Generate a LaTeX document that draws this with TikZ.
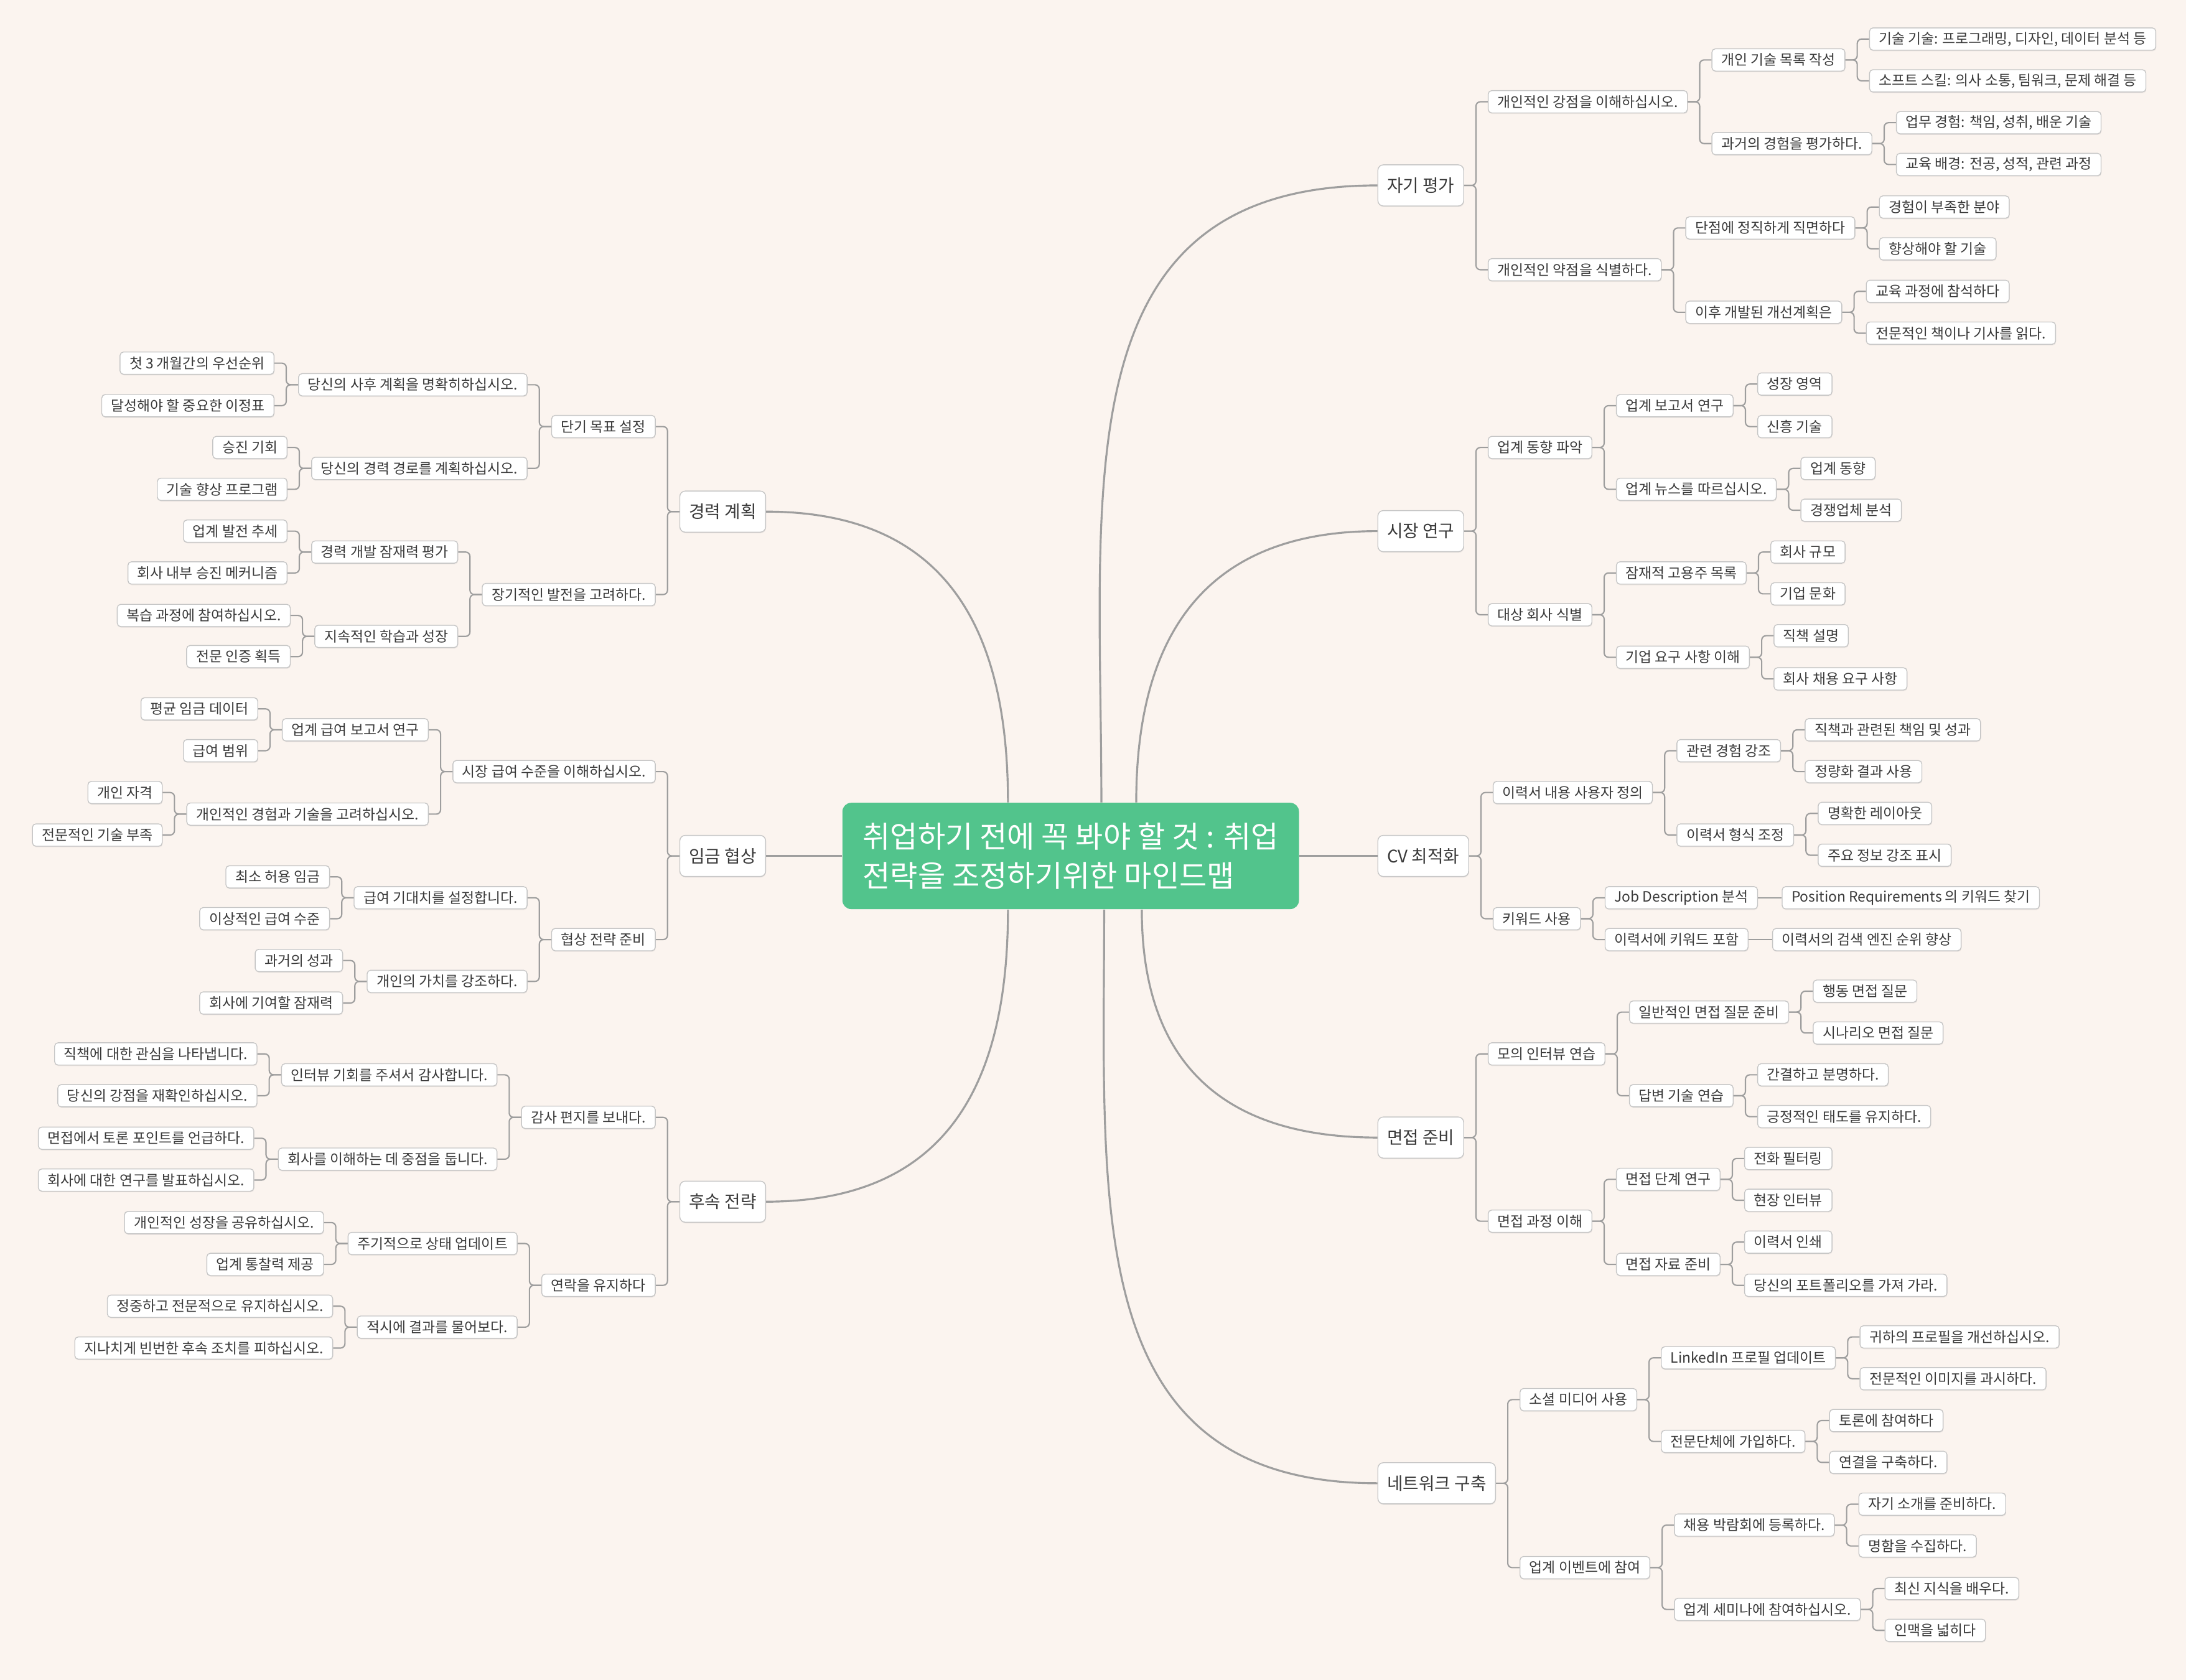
\documentclass[tikz,border=0pt]{standalone}
\usepackage{fontspec}
\setmainfont{Noto Sans CJK KR}
\usetikzlibrary{calc,shadows}

\definecolor{bgpeach}{RGB}{251,244,239}
\definecolor{hubgreen}{RGB}{82,196,140}
\definecolor{boxline}{RGB}{198,198,198}
\definecolor{linkgray}{RGB}{158,158,158}
\definecolor{inkgray}{RGB}{58,58,58}

\def\gapx{0.38cm}

\tikzset{
  box/.style={draw=boxline, fill=white, text=inkgray, line width=0.4pt,
    drop shadow={shadow xshift=0.2pt, shadow yshift=-0.5pt, opacity=0.12}},
  sub/.style={box, rounded corners=1.6pt, font=\fontsize{6.5}{7.5}\selectfont,
    inner xsep=4.3pt, inner ysep=1pt, minimum height=10.2pt},
  rsub/.style={sub, anchor=west, xshift=\gapx},
  lsub/.style={sub, anchor=east, xshift=-\gapx},
  topic/.style={box, rounded corners=2.5pt, font=\fontsize{7.9}{9.5}\selectfont,
    inner xsep=4.2pt, inner ysep=1pt, minimum height=18.8pt},
  hub/.style={fill=hubgreen, text=white, rounded corners=4pt, align=left,
    font=\fontsize{13.7}{18}\selectfont, minimum width=208.7pt,
    minimum height=48.6pt, inner xsep=3pt, inner ysep=0pt},
  link/.style={draw=linkgray, line width=0.6pt, rounded corners=2pt},
  trunk/.style={draw=linkgray, line width=0.9pt, looseness=1.2}
}

\begin{document}
\begin{tikzpicture}[x=0.0224cm, y=-0.0224cm]

  % Fondo
  \fill[bgpeach] (0,0) rectangle (1568,1205);
  \useasboundingbox (0,0) rectangle (1568,1205);

  % Tema central
  \node[hub] (hub) at (768,614) {취업하기 전에 꼭 봐야 할 것 : 취업\\전략을 조정하기위한 마인드맵};

  % Ramas principales
  \node[topic, anchor=west] (self) at (988,133) {자기 평가};
  \node[topic, anchor=west] (mkt) at (988,381) {시장 연구};
  \node[topic, anchor=west] (cv) at (988,614) {CV 최적화};
  \node[topic, anchor=west] (itv) at (988,816) {면접 준비};
  \node[topic, anchor=west] (net) at (988,1064) {네트워크 구축};
  \node[topic, anchor=east] (plan) at (549.5,367) {경력 계획};
  \node[topic, anchor=east] (wage) at (549.5,614) {임금 협상};
  \node[topic, anchor=east] (follow) at (549.5,862) {후속 전략};

  % Curvas del centro
  \draw[trunk] ($(hub.north)+(22,0)$) to[out=90, in=180] (self.west);
  \draw[trunk] ($(hub.north)+(47,0)$) to[out=90, in=180] (mkt.west);
  \draw[trunk] (hub.east) -- (cv.west);
  \draw[trunk] ($(hub.south)+(51,0)$) to[out=-90, in=180] (itv.west);
  \draw[trunk] ($(hub.south)+(24,0)$) to[out=-90, in=180] (net.west);
  \draw[trunk] ($(hub.north)+(-45,0)$) to[out=90, in=0] (plan.east);
  \draw[trunk] (hub.west) -- (wage.east);
  \draw[trunk] ($(hub.south)+(-45,0)$) to[out=-90, in=0] (follow.east);

  % 자기 평가
  \node[rsub] (self1) at (self.east |- 0,73) {개인적인 강점을 이해하십시오.};
  \node[rsub] (self11) at (self1.east |- 0,43) {개인 기술 목록 작성};
  \node[rsub] (self111) at (self11.east |- 0,28) {기술 기술: 프로그래밍, 디자인, 데이터 분석 등};
  \node[rsub] (self112) at (self11.east |- 0,58) {소프트 스킬: 의사 소통, 팀워크, 문제 해결 등};
  \node[rsub] (self12) at (self1.east |- 0,103) {과거의 경험을 평가하다.};
  \node[rsub] (self121) at (self12.east |- 0,88) {업무 경험: 책임, 성취, 배운 기술};
  \node[rsub] (self122) at (self12.east |- 0,118) {교육 배경: 전공, 성적, 관련 과정};
  \node[rsub] (self2) at (self.east |- 0,193.5) {개인적인 약점을 식별하다.};
  \node[rsub] (self21) at (self2.east |- 0,163.5) {단점에 정직하게 직면하다};
  \node[rsub] (self211) at (self21.east |- 0,148.5) {경험이 부족한 분야};
  \node[rsub] (self212) at (self21.east |- 0,178.5) {향상해야 할 기술};
  \node[rsub] (self22) at (self2.east |- 0,224) {이후 개발된 개선계획은};
  \node[rsub] (self221) at (self22.east |- 0,209) {교육 과정에 참석하다};
  \node[rsub] (self222) at (self22.east |- 0,239) {전문적인 책이나 기사를 읽다.};

  % 시장 연구
  \node[rsub] (mkt1) at (mkt.east |- 0,321) {업계 동향 파악};
  \node[rsub] (mkt11) at (mkt1.east |- 0,291) {업계 보고서 연구};
  \node[rsub] (mkt111) at (mkt11.east |- 0,275.5) {성장 영역};
  \node[rsub] (mkt112) at (mkt11.east |- 0,306) {신흥 기술};
  \node[rsub] (mkt12) at (mkt1.east |- 0,351) {업계 뉴스를 따르십시오.};
  \node[rsub] (mkt121) at (mkt12.east |- 0,336) {업계 동향};
  \node[rsub] (mkt122) at (mkt12.east |- 0,366) {경쟁업체 분석};
  \node[rsub] (mkt2) at (mkt.east |- 0,441) {대상 회사 식별};
  \node[rsub] (mkt21) at (mkt2.east |- 0,411) {잠재적 고용주 목록};
  \node[rsub] (mkt211) at (mkt21.east |- 0,396) {회사 규모};
  \node[rsub] (mkt212) at (mkt21.east |- 0,426) {기업 문화};
  \node[rsub] (mkt22) at (mkt2.east |- 0,471.5) {기업 요구 사항 이해};
  \node[rsub] (mkt221) at (mkt22.east |- 0,456) {직책 설명};
  \node[rsub] (mkt222) at (mkt22.east |- 0,487) {회사 채용 요구 사항};

  % CV 최적화
  \node[rsub] (cv1) at (cv.east |- 0,568.5) {이력서 내용 사용자 정의};
  \node[rsub] (cv11) at (cv1.east |- 0,538.5) {관련 경험 강조};
  \node[rsub] (cv111) at (cv11.east |- 0,523.5) {직책과 관련된 책임 및 성과};
  \node[rsub] (cv112) at (cv11.east |- 0,553.5) {정량화 결과 사용};
  \node[rsub] (cv12) at (cv1.east |- 0,599) {이력서 형식 조정};
  \node[rsub] (cv121) at (cv12.east |- 0,583.5) {명확한 레이아웃};
  \node[rsub] (cv122) at (cv12.east |- 0,613.5) {주요 정보 강조 표시};
  \node[rsub] (cv2) at (cv.east |- 0,659) {키워드 사용};
  \node[rsub] (cv21) at (cv2.east |- 0,644) {Job Description 분석};
  \node[rsub] (cv211) at (cv21.east |- 0,644) {Position Requirements 의 키워드 찾기};
  \node[rsub] (cv22) at (cv2.east |- 0,674) {이력서에 키워드 포함};
  \node[rsub] (cv221) at (cv22.east |- 0,674) {이력서의 검색 엔진 순위 향상};

  % 면접 준비
  \node[rsub] (itv1) at (itv.east |- 0,756) {모의 인터뷰 연습};
  \node[rsub] (itv11) at (itv1.east |- 0,726) {일반적인 면접 질문 준비};
  \node[rsub] (itv111) at (itv11.east |- 0,711) {행동 면접 질문};
  \node[rsub] (itv112) at (itv11.east |- 0,741) {시나리오 면접 질문};
  \node[rsub] (itv12) at (itv1.east |- 0,786) {답변 기술 연습};
  \node[rsub] (itv121) at (itv12.east |- 0,771) {간결하고 분명하다.};
  \node[rsub] (itv122) at (itv12.east |- 0,801) {긍정적인 태도를 유지하다.};
  \node[rsub] (itv2) at (itv.east |- 0,876) {면접 과정 이해};
  \node[rsub] (itv21) at (itv2.east |- 0,846) {면접 단계 연구};
  \node[rsub] (itv211) at (itv21.east |- 0,831) {전화 필터링};
  \node[rsub] (itv212) at (itv21.east |- 0,861) {현장 인터뷰};
  \node[rsub] (itv22) at (itv2.east |- 0,907) {면접 자료 준비};
  \node[rsub] (itv221) at (itv22.east |- 0,891) {이력서 인쇄};
  \node[rsub] (itv222) at (itv22.east |- 0,922) {당신의 포트폴리오를 가져 가라.};

  % 네트워크 구축
  \node[rsub] (net1) at (net.east |- 0,1004) {소셜 미디어 사용};
  \node[rsub] (net11) at (net1.east |- 0,974) {LinkedIn 프로필 업데이트};
  \node[rsub] (net111) at (net11.east |- 0,959) {귀하의 프로필을 개선하십시오.};
  \node[rsub] (net112) at (net11.east |- 0,989) {전문적인 이미지를 과시하다.};
  \node[rsub] (net12) at (net1.east |- 0,1034) {전문단체에 가입하다.};
  \node[rsub] (net121) at (net12.east |- 0,1019) {토론에 참여하다};
  \node[rsub] (net122) at (net12.east |- 0,1049) {연결을 구축하다.};
  \node[rsub] (net2) at (net.east |- 0,1124.5) {업계 이벤트에 참여};
  \node[rsub] (net21) at (net2.east |- 0,1094) {채용 박람회에 등록하다.};
  \node[rsub] (net211) at (net21.east |- 0,1079) {자기 소개를 준비하다.};
  \node[rsub] (net212) at (net21.east |- 0,1109) {명함을 수집하다.};
  \node[rsub] (net22) at (net2.east |- 0,1154.5) {업계 세미나에 참여하십시오.};
  \node[rsub] (net221) at (net22.east |- 0,1139.5) {최신 지식을 배우다.};
  \node[rsub] (net222) at (net22.east |- 0,1169.5) {인맥을 넓히다};

  % 경력 계획
  \node[lsub] (plan1) at (plan.west |- 0,306) {단기 목표 설정};
  \node[lsub] (plan11) at (plan1.west |- 0,276) {당신의 사후 계획을 명확히하십시오.};
  \node[lsub] (plan111) at (plan11.west |- 0,260.5) {첫 3 개월간의 우선순위};
  \node[lsub] (plan112) at (plan11.west |- 0,291) {달성해야 할 중요한 이정표};
  \node[lsub] (plan12) at (plan1.west |- 0,336) {당신의 경력 경로를 계획하십시오.};
  \node[lsub] (plan121) at (plan12.west |- 0,321) {승진 기회};
  \node[lsub] (plan122) at (plan12.west |- 0,351) {기술 향상 프로그램};
  \node[lsub] (plan2) at (plan.west |- 0,426.5) {장기적인 발전을 고려하다.};
  \node[lsub] (plan21) at (plan2.west |- 0,396) {경력 개발 잠재력 평가};
  \node[lsub] (plan211) at (plan21.west |- 0,381) {업계 발전 추세};
  \node[lsub] (plan212) at (plan21.west |- 0,411) {회사 내부 승진 메커니즘};
  \node[lsub] (plan22) at (plan2.west |- 0,456.5) {지속적인 학습과 성장};
  \node[lsub] (plan221) at (plan22.west |- 0,441.5) {복습 과정에 참여하십시오.};
  \node[lsub] (plan222) at (plan22.west |- 0,471) {전문 인증 획득};

  % 임금 협상
  \node[lsub] (wage1) at (wage.west |- 0,553.5) {시장 급여 수준을 이해하십시오.};
  \node[lsub] (wage11) at (wage1.west |- 0,523.5) {업계 급여 보고서 연구};
  \node[lsub] (wage111) at (wage11.west |- 0,508.5) {평균 임금 데이터};
  \node[lsub] (wage112) at (wage11.west |- 0,538.5) {급여 범위};
  \node[lsub] (wage12) at (wage1.west |- 0,584) {개인적인 경험과 기술을 고려하십시오.};
  \node[lsub] (wage121) at (wage12.west |- 0,568.5) {개인 자격};
  \node[lsub] (wage122) at (wage12.west |- 0,599) {전문적인 기술 부족};
  \node[lsub] (wage2) at (wage.west |- 0,674) {협상 전략 준비};
  \node[lsub] (wage21) at (wage2.west |- 0,644) {급여 기대치를 설정합니다.};
  \node[lsub] (wage211) at (wage21.west |- 0,629) {최소 허용 임금};
  \node[lsub] (wage212) at (wage21.west |- 0,659) {이상적인 급여 수준};
  \node[lsub] (wage22) at (wage2.west |- 0,704) {개인의 가치를 강조하다.};
  \node[lsub] (wage221) at (wage22.west |- 0,689) {과거의 성과};
  \node[lsub] (wage222) at (wage22.west |- 0,719.5) {회사에 기여할 잠재력};

  % 후속 전략
  \node[lsub] (follow1) at (follow.west |- 0,801.5) {감사 편지를 보내다.};
  \node[lsub] (follow11) at (follow1.west |- 0,771) {인터뷰 기회를 주셔서 감사합니다.};
  \node[lsub] (follow111) at (follow11.west |- 0,756) {직책에 대한 관심을 나타냅니다.};
  \node[lsub] (follow112) at (follow11.west |- 0,786) {당신의 강점을 재확인하십시오.};
  \node[lsub] (follow12) at (follow1.west |- 0,831.5) {회사를 이해하는 데 중점을 둡니다.};
  \node[lsub] (follow121) at (follow12.west |- 0,816.5) {면접에서 토론 포인트를 언급하다.};
  \node[lsub] (follow122) at (follow12.west |- 0,846.5) {회사에 대한 연구를 발표하십시오.};
  \node[lsub] (follow2) at (follow.west |- 0,922) {연락을 유지하다};
  \node[lsub] (follow21) at (follow2.west |- 0,892) {주기적으로 상태 업데이트};
  \node[lsub] (follow211) at (follow21.west |- 0,877) {개인적인 성장을 공유하십시오.};
  \node[lsub] (follow212) at (follow21.west |- 0,907) {업계 통찰력 제공};
  \node[lsub] (follow22) at (follow2.west |- 0,952) {적시에 결과를 물어보다.};
  \node[lsub] (follow221) at (follow22.west |- 0,937) {정중하고 전문적으로 유지하십시오.};
  \node[lsub] (follow222) at (follow22.west |- 0,967) {지나치게 빈번한 후속 조치를 피하십시오.};

  % Conectores (derecha)
  \foreach \r in {self,mkt,itv,net}{
    \foreach \a in {1,2}{
      \draw[link] (\r.east) -- ++(8.5,0) |- (\r\a.west);
      \foreach \b in {1,2}{
        \draw[link] (\r\a.east) -- ++(8.5,0) |- (\r\a\b.west);
        \foreach \c in {1,2}
          \draw[link] (\r\a\b.east) -- ++(8.5,0) |- (\r\a\b\c.west);
      }
    }
  }
  \foreach \p/\c in {cv/cv1, cv/cv2, cv1/cv11, cv1/cv12, cv11/cv111, cv11/cv112,
                     cv12/cv121, cv12/cv122, cv2/cv21, cv2/cv22}
    \draw[link] (\p.east) -- ++(8.5,0) |- (\c.west);
  \draw[link] (cv21.east) -- (cv211.west);
  \draw[link] (cv22.east) -- (cv221.west);

  % Conectores (izquierda)
  \foreach \r in {plan,wage,follow}{
    \foreach \a in {1,2}{
      \draw[link] (\r.west) -- ++(-8.5,0) |- (\r\a.east);
      \foreach \b in {1,2}{
        \draw[link] (\r\a.west) -- ++(-8.5,0) |- (\r\a\b.east);
        \foreach \c in {1,2}
          \draw[link] (\r\a\b.west) -- ++(-8.5,0) |- (\r\a\b\c.east);
      }
    }
  }

\end{tikzpicture}
\end{document}
